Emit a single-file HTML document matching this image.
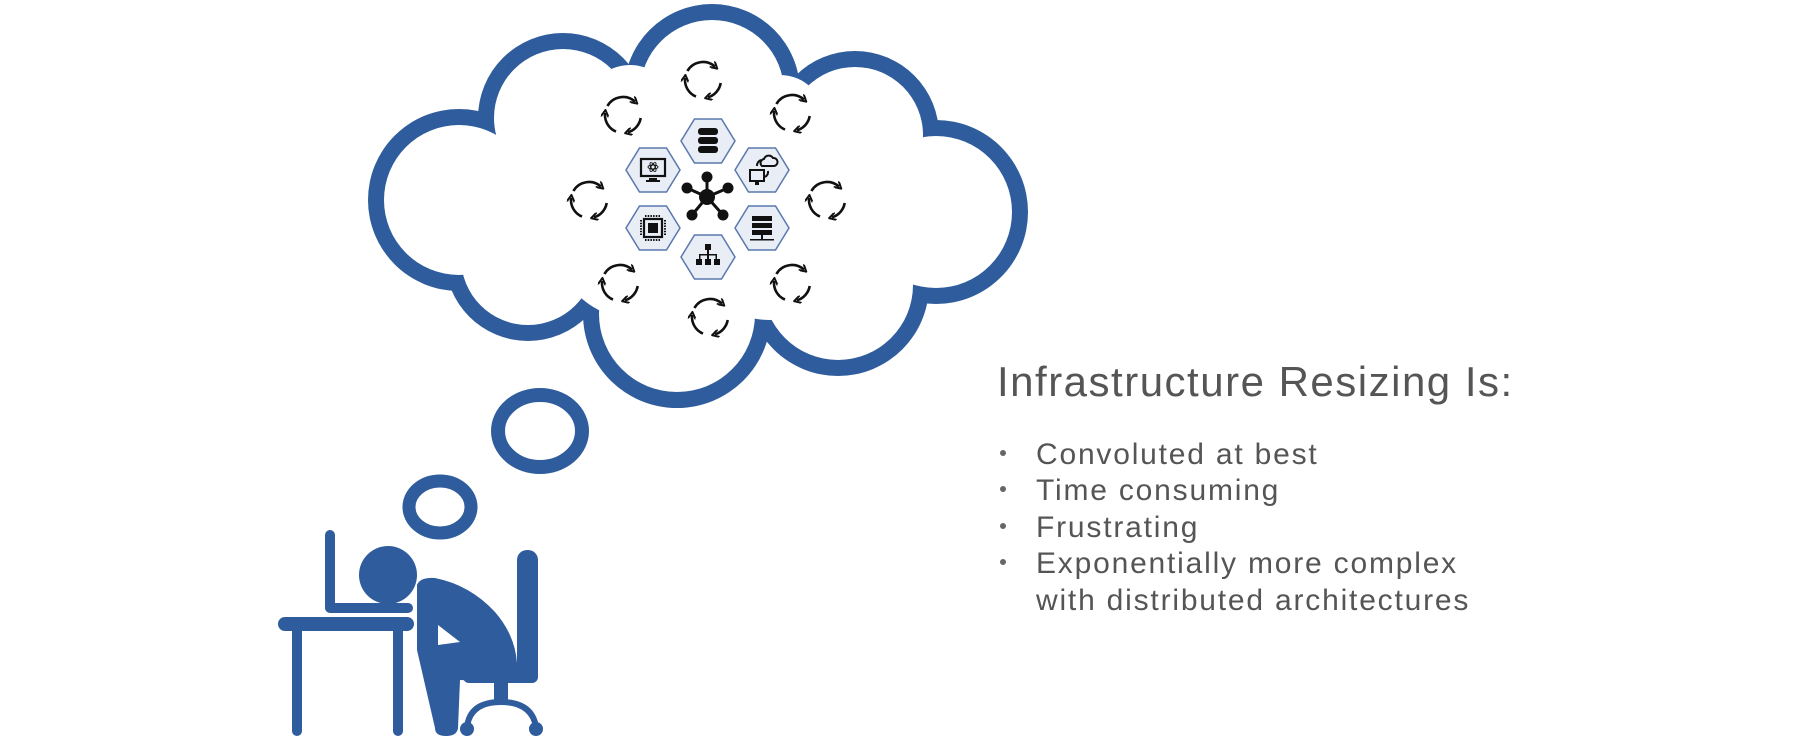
<!DOCTYPE html>
<html><head><meta charset="utf-8"><style>
html,body{margin:0;padding:0;background:#fff;width:1800px;height:749px;overflow:hidden}
svg{display:block}
text{font-family:"Liberation Sans",sans-serif}
</style></head><body>
<svg width="1800" height="749" viewBox="0 0 1800 749" xmlns="http://www.w3.org/2000/svg">
<defs>
<marker id="ah" markerWidth="8" markerHeight="8" refX="4" refY="4" orient="auto" markerUnits="userSpaceOnUse">
<path d="M0,0 L7,4 L0,8" fill="none" stroke="#111" stroke-width="2"/>
</marker>
<g id="rc" fill="none" stroke="#111" stroke-width="2.6">
<path d="M-15.6,-9 A18,18 0 0 1 12,-13.4" marker-end="url(#ah)"/>
<path d="M17.7,3 A18,18 0 0 1 5,17.3" marker-end="url(#ah)"/>
<path d="M-7,16.6 A18,18 0 0 1 -17.9,-2" marker-end="url(#ah)"/>
</g>
<polygon id="hx" points="-27,0 -13.5,-22 13.5,-22 27,0 13.5,22 -13.5,22" fill="#e8edf6" stroke="#5a78ad" stroke-width="1.5"/>
</defs>

<!-- cloud -->
<g fill="#2f5c9c">
<circle cx="459" cy="200" r="91"/><circle cx="563" cy="118" r="85"/><circle cx="712" cy="92" r="88"/>
<circle cx="855" cy="135" r="84"/><circle cx="936" cy="212" r="92"/><circle cx="838" cy="285" r="91"/>
<circle cx="677" cy="314" r="94"/><circle cx="528" cy="258" r="83"/>
</g>
<g fill="#fff">
<circle cx="459" cy="200" r="75"/><circle cx="563" cy="118" r="69"/><circle cx="712" cy="92" r="72"/>
<circle cx="855" cy="135" r="68"/><circle cx="936" cy="212" r="76"/><circle cx="838" cy="285" r="75"/>
<circle cx="677" cy="314" r="78"/><circle cx="528" cy="258" r="67"/>
<circle cx="700" cy="200" r="125"/><circle cx="640" cy="230" r="90"/><circle cx="770" cy="230" r="90"/>
<circle cx="545" cy="190" r="30"/><circle cx="850" cy="205" r="30"/><circle cx="780" cy="120" r="45"/><circle cx="630" cy="110" r="45"/>
</g>

<!-- thought bubbles -->
<ellipse cx="540" cy="431" rx="42" ry="36" fill="none" stroke="#2f5c9c" stroke-width="14"/>
<ellipse cx="440" cy="507" rx="31" ry="26" fill="none" stroke="#2f5c9c" stroke-width="13"/>

<!-- recycle icons -->
<use href="#rc" x="703" y="80"/><use href="#rc" x="623" y="115"/><use href="#rc" x="792" y="113"/>
<use href="#rc" x="589" y="200"/><use href="#rc" x="827" y="200"/><use href="#rc" x="620" y="283"/>
<use href="#rc" x="792" y="283"/><use href="#rc" x="710" y="317"/>

<!-- hexes -->
<use href="#hx" x="708" y="141"/><use href="#hx" x="653" y="170"/><use href="#hx" x="762" y="170"/>
<use href="#hx" x="653" y="228"/><use href="#hx" x="762" y="228"/><use href="#hx" x="708" y="257"/>

<!-- DB icon -->
<g fill="#111"><rect x="698" y="128" width="20" height="7" rx="3"/><rect x="698" y="137" width="20" height="7" rx="3"/><rect x="698" y="146" width="20" height="7" rx="3"/></g>
<!-- monitor -->
<g fill="none" stroke="#111" stroke-width="2.2"><rect x="641" y="159" width="24" height="17"/></g>
<rect x="649" y="178" width="8" height="2" fill="#111"/><rect x="646" y="180" width="14" height="2" fill="#111"/>
<g fill="none" stroke="#111" stroke-width="0.9"><ellipse cx="653" cy="167" rx="5" ry="2"/><ellipse cx="653" cy="167" rx="5" ry="2" transform="rotate(60 653 167)"/><ellipse cx="653" cy="167" rx="5" ry="2" transform="rotate(-60 653 167)"/></g>
<!-- cloud-monitor -->
<g fill="none" stroke="#111" stroke-width="2"><rect x="750" y="170" width="14" height="11"/><path d="M762,166 a4,4 0 0 1 2,-7 a5,5 0 0 1 9,-1 a4,4 0 0 1 1,8 z"/><path d="M757,166 a6,6 0 0 1 4,-6"/><path d="M768,171 a6,6 0 0 1 -3,6"/></g>
<rect x="755" y="182" width="4" height="3" fill="#111"/>
<!-- chip -->
<g fill="none" stroke="#111"><rect x="644" y="219" width="18" height="18" stroke-width="2.2"/><path d="M645,216 h16 M645,240 h16 M641,220 v16 M665,220 v16" stroke-width="2" stroke-dasharray="1.5 1.2"/></g>
<rect x="648" y="223" width="10" height="10" fill="#111"/>
<!-- server -->
<g fill="#111"><rect x="752" y="216" width="20" height="5"/><rect x="752" y="223" width="20" height="5"/><rect x="752" y="230" width="20" height="5"/><rect x="761" y="235" width="2" height="4"/><rect x="750" y="239" width="24" height="1.5"/></g>
<!-- network tree -->
<g fill="#111"><rect x="705" y="244" width="6" height="6"/><rect x="707" y="250" width="2" height="5"/><rect x="699" y="254" width="18" height="1.5"/><rect x="699" y="254" width="1.5" height="5"/><rect x="715.5" y="254" width="1.5" height="5"/><rect x="707" y="254" width="2" height="5"/><rect x="696" y="259" width="6" height="6"/><rect x="705" y="259" width="6" height="6"/><rect x="714" y="259" width="6" height="6"/></g>
<!-- hub -->
<g stroke="#111" stroke-width="3"><line x1="707" y1="197" x2="707" y2="177"/><line x1="707" y1="197" x2="687" y2="188"/><line x1="707" y1="197" x2="728" y2="188"/><line x1="707" y1="197" x2="692" y2="215"/><line x1="707" y1="197" x2="723" y2="215"/></g>
<g fill="#111"><circle cx="707" cy="197" r="8"/><circle cx="707" cy="177" r="5.5"/><circle cx="687" cy="188" r="5.5"/><circle cx="728" cy="188" r="5.5"/><circle cx="692" cy="215" r="5.5"/><circle cx="723" cy="215" r="5.5"/></g>

<!-- person -->
<g fill="#2f5c9c">
<rect x="278" y="617" width="136" height="14" rx="7"/>
<rect x="292" y="625" width="10" height="111" rx="5"/>
<rect x="393" y="625" width="10" height="111" rx="5"/>
<rect x="325" y="530" width="10" height="82" rx="5"/>
<rect x="325" y="603" width="88" height="10" rx="5"/>
<circle cx="388" cy="575" r="29"/>
<path d="M417,585 Q420,577 435,578 Q470,585 495,612 Q515,635 517,663 L517,672 Q515,682 505,682 L460,680 L458,728 Q457,736 446,736 Q435,736 435,728 L417,650 Z"/>
<rect x="517" y="550" width="21" height="133" rx="10"/>
<rect x="463" y="663" width="75" height="20" rx="6"/>
<rect x="494" y="680" width="14" height="22"/>
<circle cx="467" cy="729" r="7"/><circle cx="536" cy="729" r="7"/>
</g>
<path d="M467,727 Q470,702 501,702 Q532,702 536,727" fill="none" stroke="#2f5c9c" stroke-width="6"/>
<path d="M438,625 L438,645 L460,642 Z" fill="#fff"/>

<!-- text -->
<text x="997" y="396" font-size="42" letter-spacing="1.5" fill="#555">Infrastructure Resizing Is:</text>
<g font-size="30" letter-spacing="1.8" fill="#555">
<circle cx="1003" cy="453" r="3" fill="#666"/><text x="1036" y="464">Convoluted at best</text>
<circle cx="1003" cy="489" r="3" fill="#666"/><text x="1036" y="500">Time consuming</text>
<circle cx="1003" cy="526" r="3" fill="#666"/><text x="1036" y="537">Frustrating</text>
<circle cx="1003" cy="562" r="3" fill="#666"/><text x="1036" y="573">Exponentially more complex</text>
<text x="1036" y="610">with distributed architectures</text>
</g>
</svg>
</body></html>
